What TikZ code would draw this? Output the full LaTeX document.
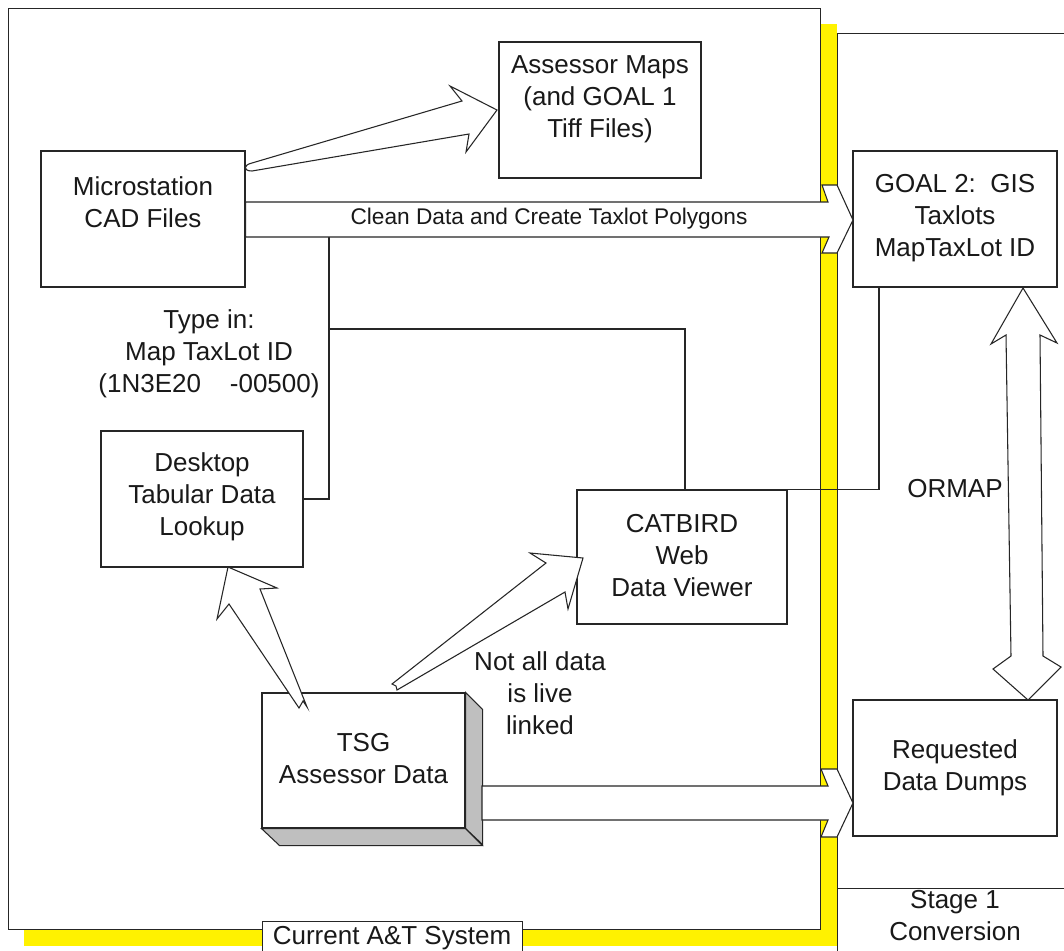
\documentclass[tikz,border=0pt]{standalone}
\usepackage{fontspec}
\setmainfont{Liberation Sans}
\begin{document}
\begin{tikzpicture}[x=0.75pt,y=-0.75pt, line width=0.8pt,
  box/.style={draw=black!85, fill=white, inner sep=0pt},
  txt/.style={align=center, inner sep=0pt, font=\fontsize{19.5pt}{24pt}\selectfont, text=black!90},
  smalltxt/.style={align=center, inner sep=0pt, font=\fontsize{17pt}{20pt}\selectfont, text=black!90},
  fat/.style={draw=black!85, fill=white, line join=miter},
  conn/.style={draw=black!85},
  side/.style={draw=black!85, fill=black!25, line join=miter}]
\clip (0,0) rectangle (1064,950);
\useasboundingbox (0,0) rectangle (1064,950);

% right container (Stage 1 Conversion area)
\node[box, anchor=north west, minimum width={300*0.75pt}, minimum height={1000*0.75pt}] (stagearea) at (837,33) {};
% yellow shadow of the left container
\fill[yellow] (24,24) rectangle (837,946);
% left container (Current A&T System)
\node[box, anchor=north west, minimum width={812*0.75pt}, minimum height={921*0.75pt}] (current) at (8,8) {};

% container labels
\node[box, anchor=north west, minimum width={260*0.75pt}, minimum height={40*0.75pt}] (curlab) at (262,921) {};
\node[txt] (curlabt) at (392,938) {Current A\&T System};
\node[box, anchor=north west, minimum width={300*0.75pt}, minimum height={80*0.75pt}] (stagelab) at (837,888) {};
\node[txt] (stagelabt) at (955,916) {Stage 1\\Conversion};

% boxes
\node[box, minimum width={204*0.75pt}, minimum height={136*0.75pt}] (cad) at (143,219) {};
\node[txt] (cadt) at (143,202) {Microstation\\CAD Files};

\node[box, minimum width={202*0.75pt}, minimum height={136*0.75pt}] (maps) at (600,110) {};
\node[txt] (mapst) at (600,99) {Assessor Maps\\(and GOAL 1\\Tiff Files)};

\node[box, minimum width={204*0.75pt}, minimum height={136*0.75pt}] (goal) at (955,219) {};
\node[txt] (goalt) at (955,218) {GOAL 2:\ \ GIS\\Taxlots\\MapTaxLot ID};

\node[box, minimum width={204*0.75pt}, minimum height={136*0.75pt}] (dumps) at (955,768) {};
\node[txt] (dumpst) at (955,768) {Requested\\Data Dumps};

\node[box, minimum width={202*0.75pt}, minimum height={136*0.75pt}] (desk) at (202,499) {};
\node[txt] (deskt) at (202,497) {Desktop\\Tabular Data\\Lookup};

\node[box, minimum width={210*0.75pt}, minimum height={134*0.75pt}] (cat) at (682,557) {};
\node[txt] (catt) at (682,556) {CATBIRD\\Web\\Data Viewer};

% TSG 3D box
\node[box, minimum width={203*0.75pt}, minimum height={135*0.75pt}] (tsg) at (363.5,760.5) {};
\draw[side] (tsg.north east) -- ++(17,17) -- ++(0,135) -- (tsg.south east) -- cycle;
\draw[side] (tsg.south west) -- (tsg.south east) -- ++(17,17) -- ++(-203,0) -- cycle;
\node[txt] (tsgt) at (363.5,759) {TSG\\Assessor Data};

% thin connectors
\draw[conn] (329,237) |- (desk.east);
\draw[conn] (cat.north -| 685,0) |- (329,329);
\draw[conn] (goal.south -| 879,0) |- (cat.north east);

% free labels
\node[txt] (typein) at (209,354) {Type in:\\Map TaxLot ID\\(1N3E20\ \ \ \ -00500)};
\node[txt] (notall) at (540,693) {Not all data\\is live\\linked};
\node[txt] (ormap) at (955,489) {ORMAP};

% wide arrows
\draw[fat] (cad.east |- 0,202) -- (828,202) -- (822,185) -- (837,185) -- (853,220)
  -- (837,253) -- (822,253) -- (829,237) -- (cad.east |- 0,237) -- cycle;
\node[smalltxt] (cleant) at (549,219) {Clean Data and Create Taxlot Polygons};

\draw[fat] (482,786) -- (828,786) -- (821,769) -- (837,769) -- (853,803)
  -- (837,837) -- (821,837) -- (828,820) -- (482,820) -- cycle;

% tapered arrows
\draw[fat] (252,163) -- (462,101) -- (450,86) -- (497,110) -- (466,152) -- (469,134)
  -- (252,171) .. controls (243,171) and (243,165) .. (252,163) -- cycle;

\draw[fat] (228,567) -- (277,588) -- (260,589) -- (307,707) -- (303,701) -- (299,708)
  -- (229,604) -- (217,619) -- cycle;

\draw[fat] (583,558) -- (530,553) -- (546,563) -- (392,684) -- (396,686) -- (397,690)
  -- (565,592) -- (568,609) -- cycle;

% ORMAP double arrow
\draw[fat] (1023,288) -- (1057,343) -- (1040,335) -- (1043,656) -- (1061,667) -- (1028,700)
  -- (993,669) -- (1011,656) -- (1006,335) -- (991,344) -- cycle;
\end{tikzpicture}
\end{document}
